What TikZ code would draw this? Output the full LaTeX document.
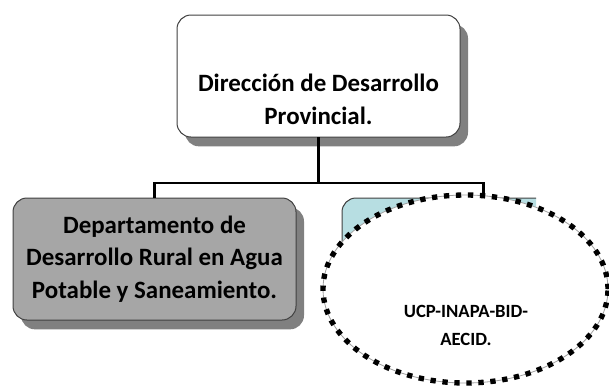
\documentclass[tikz,border=0pt]{standalone}
\usepackage{fontspec}
\setmainfont{Carlito}
\usetikzlibrary{shapes.geometric,shadows}

\tikzset{every picture/.style={line width=0.75pt}}
\tikzset{
  orgbox/.style={draw={rgb, 255:red, 64; green, 64; blue, 64}, rounded corners=10.5pt,
    minimum width=212.25pt, minimum height=91.5pt, inner sep=0pt, outer sep=0pt,
    align=center, font=\fontsize{18.7}{24.4}\selectfont\bfseries},
  boxshadow/.style={drop shadow={shadow xshift=6pt, shadow yshift=-7pt,
    fill={rgb, 255:red, 128; green, 128; blue, 128}, opacity=1}},
  link/.style={line width=2pt, black},
  dotring/.style={ellipse, minimum width=213.75pt, minimum height=141pt, inner sep=0pt,
    draw={rgb, 255:red, 160; green, 160; blue, 160}, line width=0.6pt, fill=white,
    postaction={draw=black, line width=4pt, dash pattern=on 4pt off 5pt}}
}

\begin{document}
\begin{tikzpicture}[x=0.75pt,y=0.75pt,yscale=-1,xscale=1]
\useasboundingbox (0,0) rectangle (609,387);

%Rounded Rect: direccion
\node (dir) [orgbox, boxshadow, fill=white] at (318.5,76) {};
% Text Node
\node (dirtext) [align=center, font=\fontsize{18.7}{24.8}\selectfont\bfseries] at (318.5,99) {Dirección de Desarrollo\\Provincial.};

%Rounded Rect: departamento
\node (depto) [orgbox, boxshadow, fill={rgb, 255:red, 166; green, 166; blue, 166}] at (154.5,259) {Departamento de\\Desarrollo Rural en Agua\\Potable y Saneamiento.};

%Rounded Rect: cut off at the right
\begin{scope}
\clip (0,0) rectangle (536,387);
\node (ucpbox) [orgbox, fill={rgb, 255:red, 183; green, 222; blue, 226}] at (483.5,259) {};
\end{scope}

%Straight Lines
\coordinate (bar) at (318.5,183);
\draw [link] (dir.south) -- (bar) -| (depto.north);
\draw [link] (bar) -| (ucpbox.north);

%Ellipse
\node (ucp) [dotring] at (465.5,289) {};
% Text Node
\node (ucptext) [align=center, font=\fontsize{14}{21}\selectfont\bfseries] at (466,325) {UCP-INAPA-BID-\\AECID.};

\end{tikzpicture}
\end{document}
